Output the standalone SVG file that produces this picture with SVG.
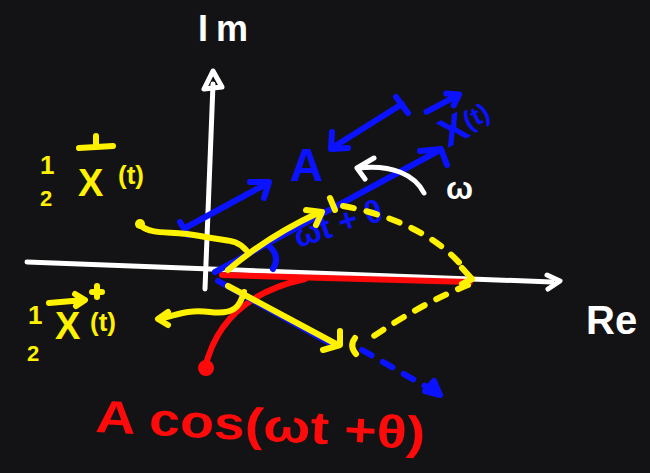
<svg xmlns="http://www.w3.org/2000/svg" width="650" height="473" viewBox="0 0 650 473">
<style>
.w{stroke:#ffffff;fill:none;stroke-width:5;stroke-linecap:round;stroke-linejoin:round}
.y{stroke:#fff200;fill:none;stroke-width:6;stroke-linecap:round;stroke-linejoin:round}
.b{stroke:#0a12ff;fill:none;stroke-width:6;stroke-linecap:round;stroke-linejoin:round}
.r{stroke:#ff0a0a;fill:none;stroke-width:6;stroke-linecap:round;stroke-linejoin:round}
.dash{stroke-dasharray:11 13}
text{font-family:"Liberation Sans","DejaVu Sans",sans-serif;font-weight:bold}
.tw{fill:#ffffff}.ty{fill:#fff200}.tb{fill:#0a12ff}.tr{fill:#ff0a0a}
</style>
<rect width="650" height="473" fill="#131315"/>

<g id="axes">
  <path class="w" d="M205,289 L213,84"/>
  <path class="w" d="M213,71 L204,89 L222,87 Z" fill="#131315"/>
  <path class="w" d="M27,262 L552,282"/>
  <path class="w" stroke-width="4" d="M547,275 L560,281 L548,289"/>
  <text class="tw" x="198" y="41" font-size="36" letter-spacing="8">Im</text>
  <text class="tw" x="586" y="334" font-size="40">Re</text>
</g>

<g id="red-projection">
  <path class="r" stroke-width="11" d="M222,275 L470,282"/>
  <path class="r" d="M205,368 C 215,325 245,292 305,279"/>
  <circle class="r" cx="206" cy="368" r="5"/>
  <text class="tr" x="95" y="432" font-size="46" transform="rotate(3 95 432)" textLength="330" lengthAdjust="spacingAndGlyphs">A cos(ωt +θ)</text>
</g>

<g id="phasor-X">
  <path class="b" d="M215,272 L440,150"/>
  <path class="b" d="M420,151 L441,149 L447,165"/>
  <g transform="rotate(-28 448 148)">
    <text class="tb" x="448" y="148" font-size="40">X<tspan font-size="26" dy="-6">(t)</tspan></text>
    <path class="b" d="M446,106 L482,106 M472,99 L483,106 L473,113"/>
  </g>
</g>

<g id="amplitude-A">
  <path class="b" d="M185,228 L268,183"/>
  <path class="b" d="M250,182 L269,182 L264,198"/>
  <path class="b" d="M180,222 L188,235"/>
  <path class="b" d="M402,104 L332,148"/>
  <path class="b" d="M332,132 L331,149 L348,148"/>
  <path class="b" d="M396,97 L408,113"/>
  <text class="tb" x="290" y="181" font-size="46">A</text>
</g>

<g id="angle">
  <path class="b" stroke-width="5" d="M268,245 Q 281,256 273,269"/>
  <text class="tb" x="298" y="248" font-size="32" transform="rotate(-18 298 248)">ωt + θ</text>
</g>

<g id="rotation-omega">
  <path class="w" d="M424,193 C 415,175 392,164 358,168"/>
  <path class="w" d="M374,158 L357,168 L365,179"/>
  <text class="tw" x="446" y="199" font-size="32">ω</text>
</g>

<g id="half-X">
  <path class="y" d="M228,270 Q 268,236 320,212"/>
  <path class="y" d="M306,210 L322,212 L316,225"/>
  <path class="y" d="M330,198 L335,210"/>
  <path class="y dash" d="M343,206 C 392,215 440,236 467,272"/>
  <path class="y" d="M462,268 L472,279 L462,284"/>
</g>

<g id="half-X-conj">
  <path class="b" d="M218,281 L335,346"/>
  <path class="y" d="M228,286 L338,345"/>
  <path class="y" d="M340,331 L340,345 L323,350"/>
  <path class="y" d="M355,338 Q 349,346 356,354"/>
  <path class="y dash" d="M468,285 Q 420,304 365,342"/>
  <path class="b dash" d="M362,350 L432,390"/>
  <path class="b" fill="#0a12ff" stroke-width="3" d="M440,395 L425,391 L434,381 Z"/>
</g>

<g id="label-half-X">
  <text class="ty" x="40" y="174" font-size="26">1</text>
  <text class="ty" x="40" y="206" font-size="22">2</text>
  <path class="y" d="M79,148 L113,146 M96,136 L96,146"/>
  <text class="ty" x="78" y="196" font-size="38">X</text>
  <text class="ty" x="118" y="184" font-size="26">(t)</text>
  <path class="y" d="M140,225 C 152,236 172,230 200,236 S 235,238 246,250"/>
  <circle cx="140" cy="224" r="5" fill="#fff200"/>
</g>

<g id="label-half-X-conj">
  <text class="ty" x="28" y="324" font-size="26">1</text>
  <text class="ty" x="27" y="361" font-size="22">2</text>
  <path class="y" d="M49,303 L84,300 M75,294 L85,300 L76,306"/>
  <path class="y" stroke-width="4" d="M92,292 L102,292 M97,286 L97,297"/>
  <text class="ty" x="55" y="339" font-size="38">X</text>
  <text class="ty" x="90" y="331" font-size="26">(t)</text>
  <path class="y" d="M162,318 C 175,316 185,309 210,312 S 240,306 244,292"/>
  <path class="y" stroke-width="5" d="M168,312 L158,319 L168,325"/>
</g>
</svg>
